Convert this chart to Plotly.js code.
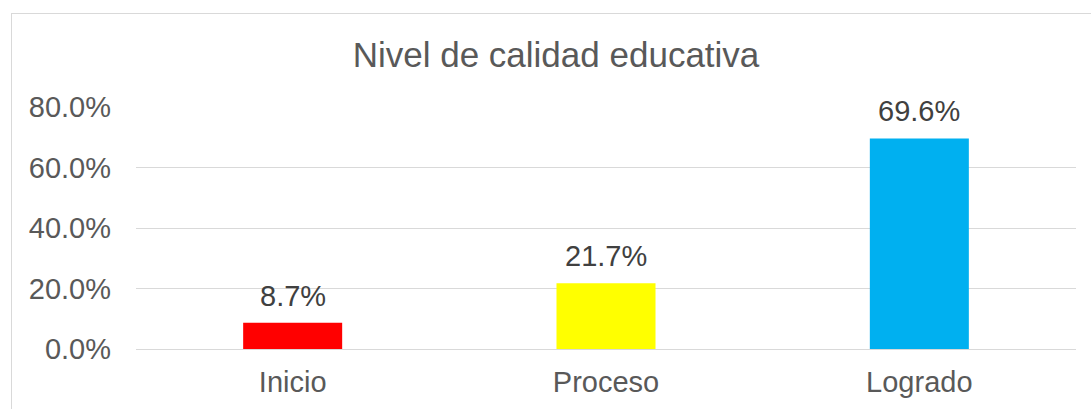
<!DOCTYPE html>
<html>
<head>
<meta charset="utf-8">
<script src="https://cdn.plot.ly/plotly-3.0.1.min.js"></script>
<style>
  html, body { margin: 0; padding: 0; background: #ffffff; }
  #wrap { position: relative; width: 1091px; height: 409px; overflow: hidden; }
  #chart { width: 1091px; height: 409px; }
  #frame { position: absolute; left: 11px; top: 13px; width: 1100px; height: 420px;
           border: 1px solid #d9d9d9; box-sizing: border-box; pointer-events: none; }
</style>
</head>
<body>
<div id="wrap">
  <div id="chart"></div>
  <div id="frame"></div>
</div>
<script>
const categories = ["Inicio", "Proceso", "Logrado"];
const values = [0.087, 0.217, 0.696];
const barColors = ["#ff0000", "#ffff00", "#00b0f0"];
const tickValues = [0, 0.2, 0.4, 0.6, 0.8];
const chartTitle = "Nivel de calidad educativa";

const fontFamily = '"Liberation Sans", Arial, sans-serif';

const trace = {
  type: "bar",
  x: categories,
  y: values,
  marker: { color: barColors },
  hoverinfo: "x+y"
};

const annotations = categories.map((c, i) => ({
  x: c,
  y: values[i],
  xref: "x",
  yref: "y",
  text: (values[i] * 100).toFixed(1) + "%",
  showarrow: false,
  xanchor: "center",
  yanchor: "bottom",
  yshift: 9,
  font: { family: fontFamily, size: 29, color: "#404040" }
}));

const layout = {
  width: 1091,
  height: 409,
  margin: { l: 136, r: 15, t: 107, b: 60, pad: 0 },
  paper_bgcolor: "#ffffff",
  plot_bgcolor: "#ffffff",
  showlegend: false,
  bargap: 0.684,
  font: { family: fontFamily, size: 29, color: "#595959" },
  title: {
    text: chartTitle,
    font: { family: fontFamily, size: 35, color: "#595959" },
    xref: "container",
    yref: "container",
    x: 556 / 1091,
    xanchor: "center",
    y: 1 - 55 / 409,
    yanchor: "middle"
  },
  xaxis: {
    type: "category",
    showgrid: false,
    zeroline: false,
    showline: false,
    ticks: "",
    ticklabelstandoff: 13,
    tickfont: { family: fontFamily, size: 29, color: "#595959" }
  },
  yaxis: {
    range: [0, 0.8],
    tickvals: tickValues,
    tickformat: ".1%",
    showgrid: true,
    gridcolor: "#d9d9d9",
    gridwidth: 1,
    zeroline: true,
    zerolinecolor: "#d9d9d9",
    zerolinewidth: 1,
    showline: false,
    ticks: "",
    ticklabelstandoff: 24,
    tickfont: { family: fontFamily, size: 29, color: "#595959" }
  },
  annotations: annotations
};

Plotly.newPlot("chart", [trace], layout, { displayModeBar: false, staticPlot: true });
</script>
</body>
</html>
